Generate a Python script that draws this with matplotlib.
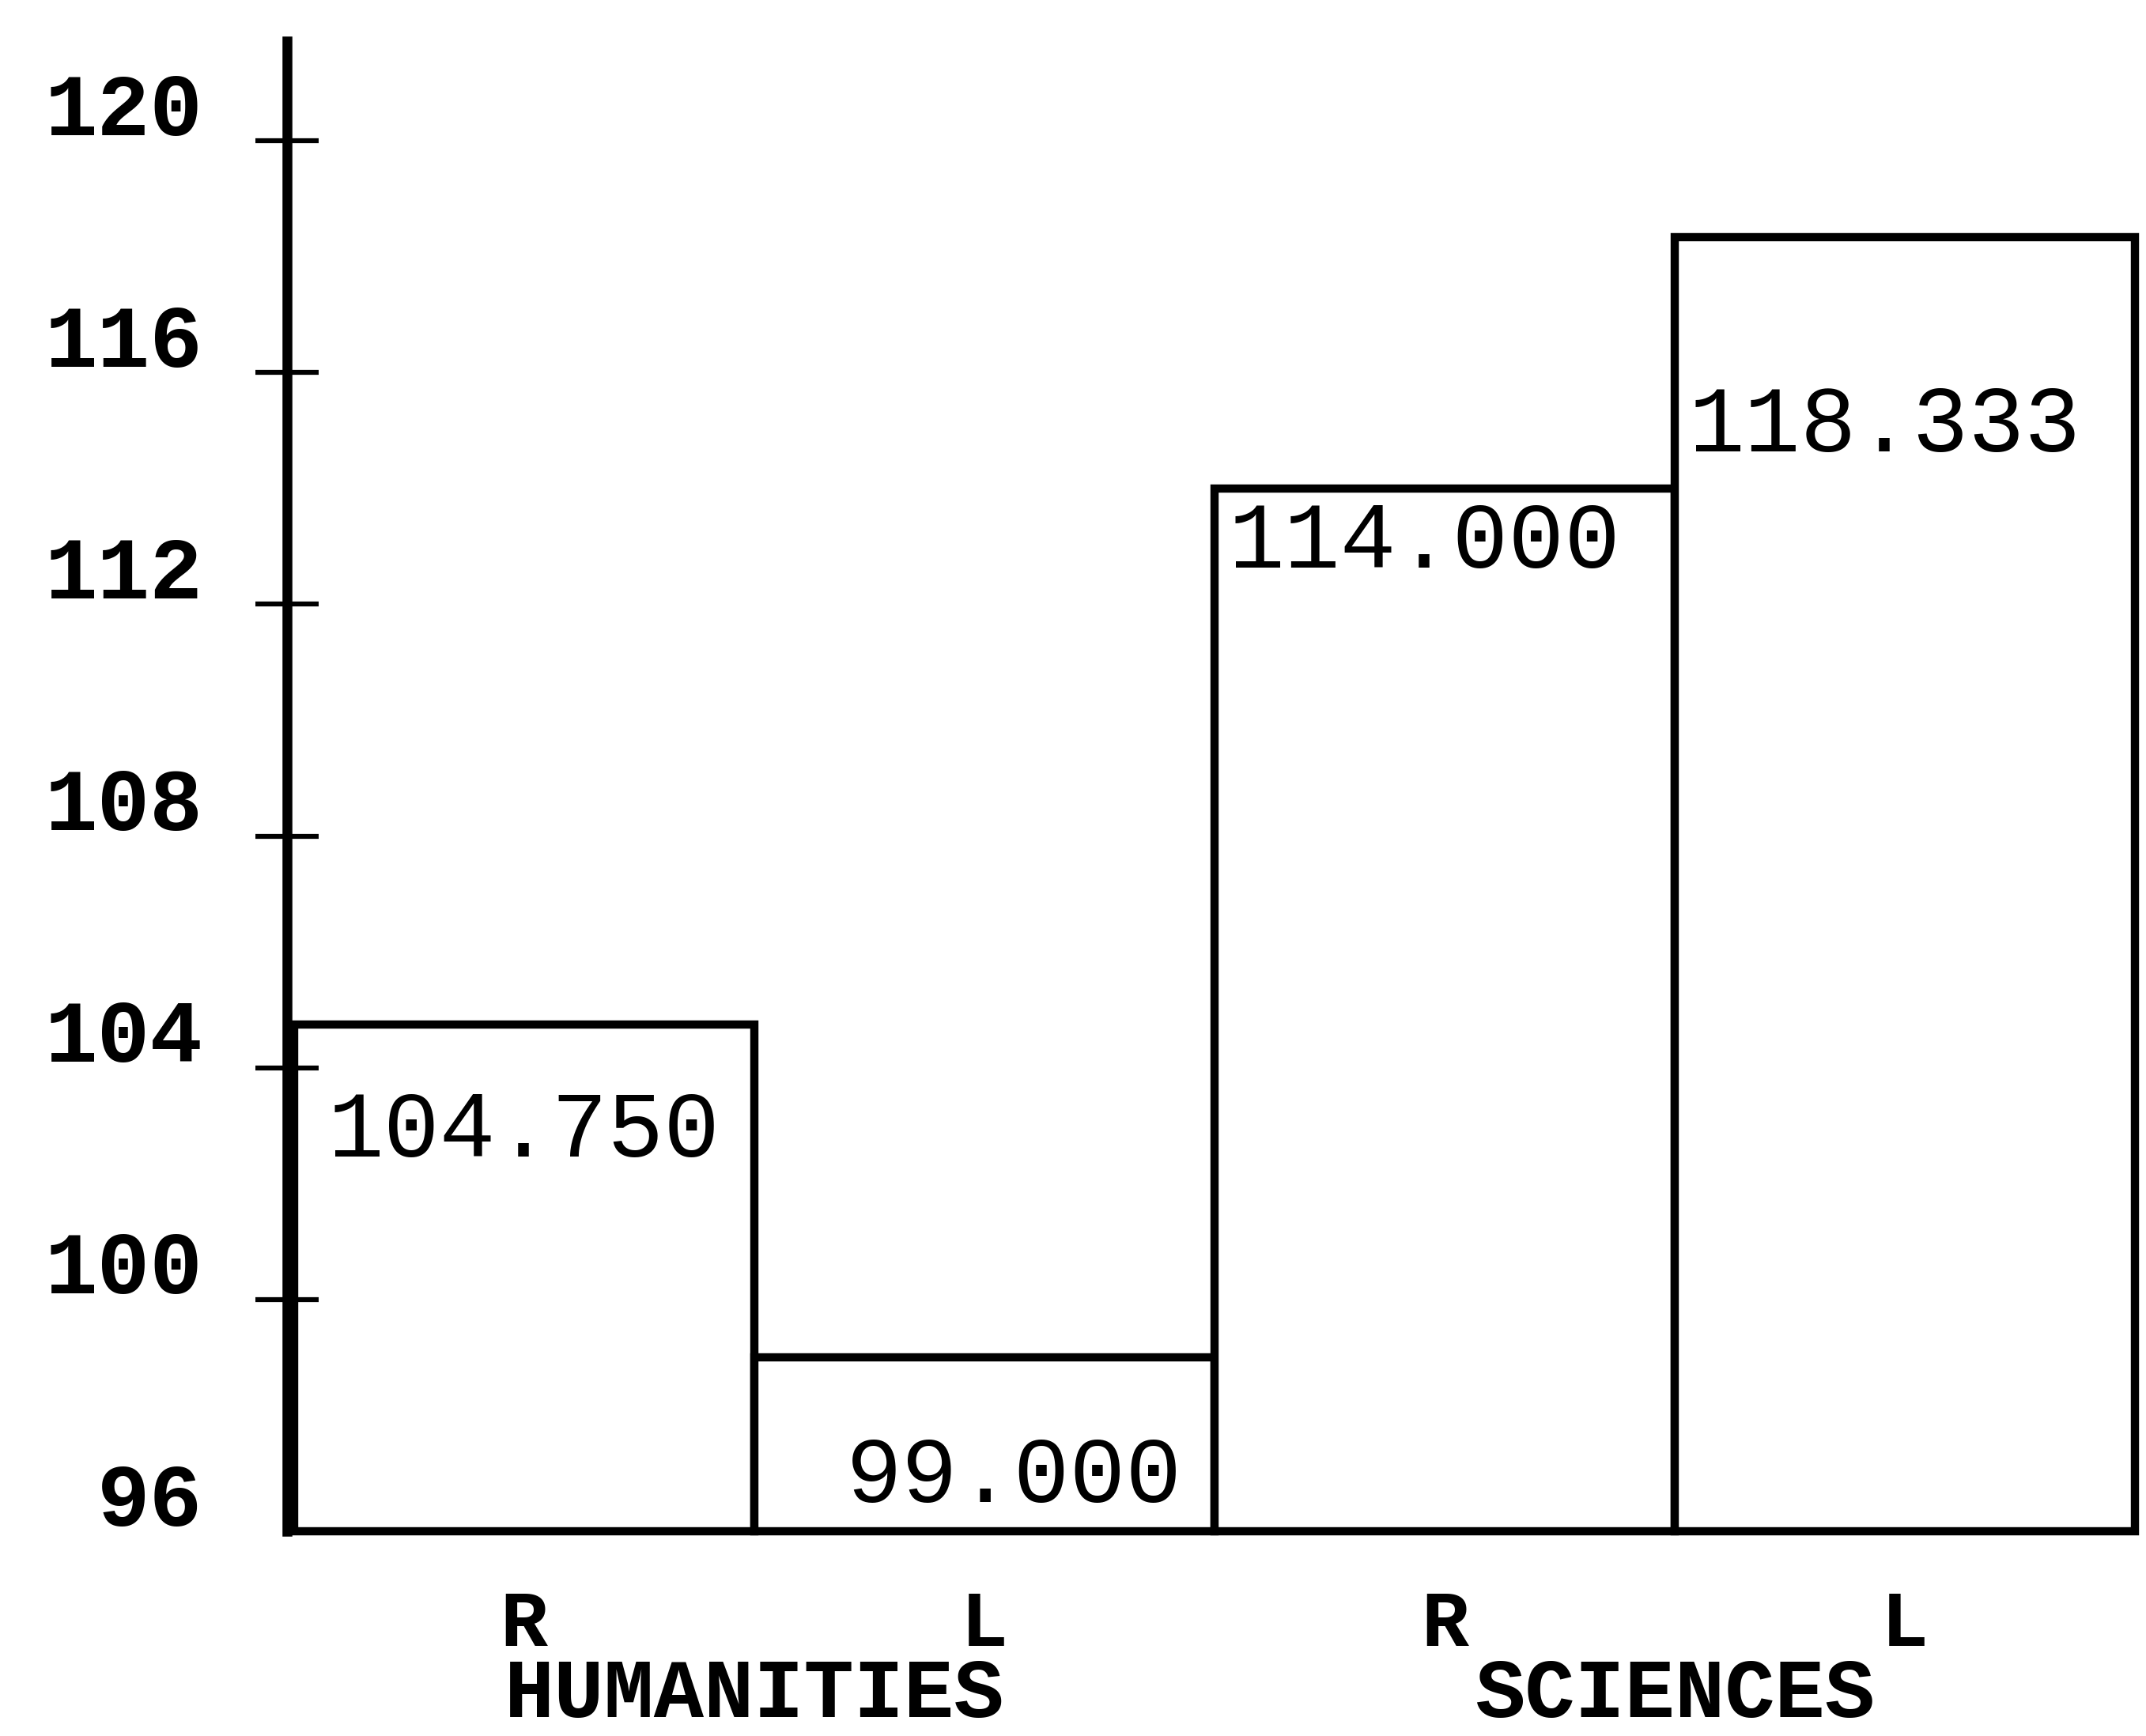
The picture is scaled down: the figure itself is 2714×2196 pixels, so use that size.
import matplotlib.pyplot as plt
from matplotlib.transforms import ScaledTranslation, blended_transform_factory

# data
groups = ["HUMANITIES", "SCIENCES"]
sides = ["R", "L", "R", "L"]
means = [104.750, 99.000, 114.000, 118.333]
y_ticks = [96, 100, 104, 108, 112, 116, 120]

BASE = 96
FONT = "Liberation Mono"

fig = plt.figure(figsize=(27.14, 21.96), dpi=100)
ax = fig.add_axes([0.1337, 0.1179, 0.8663, 0.8584])

x = list(range(len(means)))
heights = [m - BASE for m in means]
ax.bar(x, heights, bottom=BASE, width=1.0, facecolor="white",
       edgecolor="black", linewidth=7.5, clip_on=False)

ax.set_xlim(-0.515, 3.524)
ax.set_ylim(BASE, 121.72)

# value labels typed inside the bars (hand placed in the original)
label_dx = [-0.426, 1.43, 1.53, 2.53]
label_drop = [1.87, 2.08, 0.95, 3.28]
label_ha = ["left", "right", "left", "left"]
for i, m in enumerate(means):
    ax.text(label_dx[i], m - label_drop[i], f"{m:.3f}", ha=label_ha[i],
            va="center", fontsize=85, family=FONT)

# axes look
for s in ["top", "right", "bottom"]:
    ax.spines[s].set_visible(False)
ax.spines["left"].set_linewidth(9)

ax.set_yticks(y_ticks)
ax.set_yticklabels([str(t) for t in y_ticks], fontsize=80, family=FONT,
                   fontweight="bold")
ax.tick_params(axis="y", direction="inout", length=58, width=4.5, pad=48)
ax.yaxis.get_major_ticks()[0].tick1line.set_visible(False)
for lab in ax.get_yticklabels():
    lab.set_transform(lab.get_transform()
                      + ScaledTranslation(0, 0.48, fig.dpi_scale_trans))

ax.set_xticks(x)
ax.set_xticklabels(sides, fontsize=72, family=FONT, fontweight="bold")
ax.tick_params(axis="x", length=0, pad=52)

# group names sit at the very bottom edge of the page
trans = blended_transform_factory(ax.transData, fig.transFigure)
for j, g in enumerate(groups):
    ax.text(2 * j + 0.5, 0.001, g, transform=trans, ha="center",
            va="bottom", fontsize=76, family=FONT, fontweight="bold")

fig.savefig("out.png", dpi=100)
